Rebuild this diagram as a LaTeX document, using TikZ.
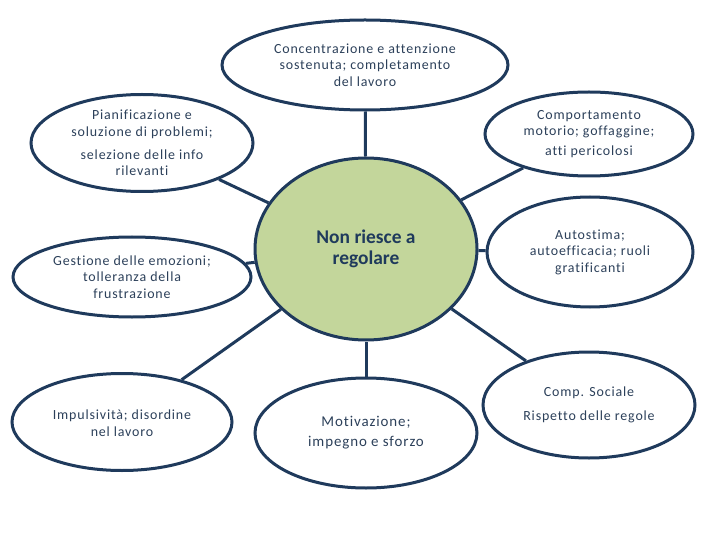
\documentclass[tikz,border=0pt]{standalone}
\usepackage{fontspec}
\setmainfont{Carlito}[Ligatures=NoCommon]
\newfontfamily\spaced{Carlito}[LetterSpace=6,Ligatures=NoCommon]
\usetikzlibrary{shapes.geometric}
\definecolor{navy}{HTML}{1F3A5C}
\definecolor{txtc}{HTML}{2C405A}
\definecolor{olive}{HTML}{C3D69B}
\begin{document}
\begin{tikzpicture}[x=1bp,y=-1bp,
  bub/.style={ellipse, draw=navy, line width=3bp, fill=white, inner sep=0pt},
  lbl/.style={text=txtc, align=center, font=\spaced\fontsize{14}{16.5}\selectfont, inner sep=0pt},
  link/.style={draw=navy, line width=3bp}]
\useasboundingbox (0,0) rectangle (720,540);
\node[bub, minimum width=286bp, minimum height=90bp] (top) at (365,65) {};
\node[bub, minimum width=222bp, minimum height=97bp] (tl) at (142,143) {};
\node[bub, minimum width=208bp, minimum height=84bp] (tr) at (589,134) {};
\node[bub, minimum width=238bp, minimum height=80bp] (ml) at (132,277) {};
\node[bub, minimum width=206bp, minimum height=110bp] (mr) at (590,252) {};
\node[bub, minimum width=220bp, minimum height=97bp] (bl) at (122,422) {};
\node[bub, minimum width=222bp, minimum height=110bp] (bc) at (366,433) {};
\node[bub, minimum width=212bp, minimum height=106bp] (br) at (589,405) {};
\node[bub, fill=olive, minimum width=222bp, minimum height=182bp] (c) at (366,249) {};

\node[lbl] (ttop) at (top) {Concentrazione e attenzione\\sostenuta; completamento\\del lavoro};
\node[lbl] (ttl) at (tl) {Pianificazione e\\soluzione di problemi;\\[7bp]selezione delle info\\rilevanti};
\node[lbl] (ttr) at (tr) {Comportamento\\motorio; goffaggine;\\[3bp]atti pericolosi};
\node[lbl] (tml) at (ml) {Gestione delle emozioni;\\tolleranza della\\frustrazione};
\node[lbl] (tmr) at (mr) {Autostima;\\autoefficacia; ruoli\\gratificanti};
\node[lbl] (tbl) at ([yshift=-1bp]bl.center) {Impulsività; disordine\\nel lavoro};
\node[lbl, font=\spaced\fontsize{15}{20}\selectfont] (tbc) at (bc) {Motivazione;\\impegno e sforzo};
\node[lbl] (tbr) at (br) {Comp. Sociale\\[7bp]Rispetto delle regole};
\node[lbl, font=\fontsize{19.5}{20.5}\selectfont\bfseries, text=navy] (tc) at (c) {Non riesce a\\regolare};

\foreach \n in {top,tl,tr,ml,mr,bl,bc,br}
  \draw[link] (c) -- (\n);
\end{tikzpicture}
\end{document}
